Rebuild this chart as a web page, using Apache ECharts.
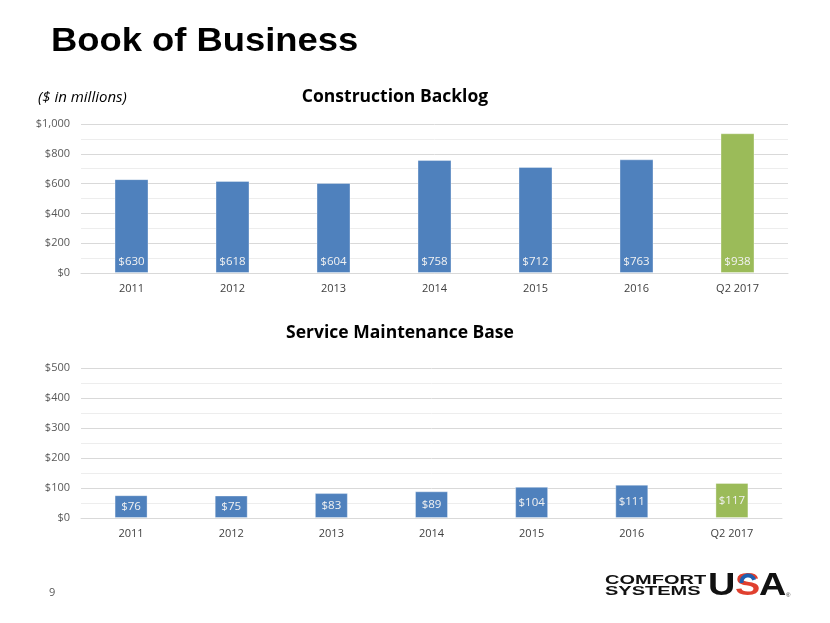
<!DOCTYPE html>
<html>
<head>
<meta charset="utf-8">
<style>
html,body{margin:0;padding:0;background:#fff;}
#chart{width:830px;height:623px;}
</style>
<script src="https://cdn.jsdelivr.net/npm/echarts@6/dist/echarts.min.js"></script>
</head>
<body>
<div id="chart"></div>
<script>
var categories = ['2011', '2012', '2013', '2014', '2015', '2016', 'Q2 2017'];
var backlogValues = [630, 618, 604, 758, 712, 763, 938];
var serviceValues = [76, 75, 83, 89, 104, 111, 117];
var barColors = ['#4F81BD', '#4F81BD', '#4F81BD', '#4F81BD', '#4F81BD', '#4F81BD', '#9BBB59'];

var FONT = '"Open Sans", "Noto Sans", sans-serif';

function toItems(vals) {
  return vals.map(function (v, i) {
    return { value: v, itemStyle: { color: barColors[i] } };
  });
}
function money(v) {
  return '$' + String(v).replace(/\B(?=(\d{3})+(?!\d))/g, ',');
}

var chart = echarts.init(document.getElementById('chart'));
var yAxisCommon = {
  type: 'value',
  axisLine: { show: false },
  axisTick: { show: false },
  axisLabel: { color: '#595959', fontFamily: FONT, fontSize: 11, margin: 11, formatter: money },
  splitLine: { lineStyle: { color: '#D9D9D9', width: 1 } },
  minorTick: { show: false, splitNumber: 2 },
  minorSplitLine: { show: true, lineStyle: { color: '#EDEDED', width: 1 } }
};
var xAxisCommon = {
  type: 'category',
  data: categories,
  axisLine: { lineStyle: { color: '#D9D9D9' } },
  axisTick: { show: false },
  axisLabel: { color: '#404040', fontFamily: FONT, fontSize: 11, margin: 10 }
};

chart.setOption({
  animation: false,
  grid: [
    { left: 81, right: 42, top: 124, height: 149 },
    { left: 81, right: 48, top: 368, height: 150 }
  ],
  xAxis: [
    Object.assign({ gridIndex: 0 }, xAxisCommon),
    Object.assign({ gridIndex: 1 }, xAxisCommon)
  ],
  yAxis: [
    Object.assign({ gridIndex: 0, min: 0, max: 1000, interval: 200 }, yAxisCommon),
    Object.assign({ gridIndex: 1, min: 0, max: 500, interval: 100 }, yAxisCommon)
  ],
  series: [
    {
      type: 'bar', xAxisIndex: 0, yAxisIndex: 0, barWidth: 34,
      data: toItems(backlogValues),
      itemStyle: { borderColor: 'rgba(255,255,255,0.35)', borderWidth: 1 },
      label: { show: true, position: 'insideBottom', distance: 5, color: '#F2F2F2',
               fontFamily: FONT, fontSize: 11.5, formatter: function (p) { return money(p.value); } }
    },
    {
      type: 'bar', xAxisIndex: 1, yAxisIndex: 1, barWidth: 33,
      data: toItems(serviceValues),
      itemStyle: { borderColor: 'rgba(255,255,255,0.35)', borderWidth: 1 },
      label: { show: true, position: 'inside', color: '#F2F2F2',
               fontFamily: FONT, fontSize: 11.5, formatter: function (p) { return money(p.value); } }
    }
  ],
  graphic: [
    { type: 'text', x: 51, y: 41.5, scaleX: 1.07, style: { text: 'Book of Business', fill: '#000',
      font: 'bold 34px "Liberation Sans", Arial, sans-serif', textVerticalAlign: 'middle' } },
    { type: 'text', x: 38, y: 98, style: { text: '($ in millions)', fill: '#000',
      font: 'italic 15px ' + FONT, textVerticalAlign: 'middle' } },
    { type: 'text', x: 395, y: 97, style: { text: 'Construction Backlog', fill: '#000',
      font: 'bold 17.5px ' + FONT, textAlign: 'center', textVerticalAlign: 'middle' } },
    { type: 'text', x: 400, y: 333, style: { text: 'Service Maintenance Base', fill: '#000',
      font: 'bold 17.5px ' + FONT, textAlign: 'center', textVerticalAlign: 'middle' } },
    { type: 'text', x: 49, y: 593, style: { text: '9', fill: '#595959',
      font: '11px ' + FONT, textVerticalAlign: 'middle' } },
    { type: 'text', x: 605, y: 580.5, scaleX: 1.6, style: { text: 'COMFORT', fill: '#111',
      font: 'bold 12.5px "Liberation Sans", Arial, sans-serif', textVerticalAlign: 'middle' } },
    { type: 'text', x: 605, y: 591.5, scaleX: 1.6, style: { text: 'SYSTEMS', fill: '#111',
      font: 'bold 12.5px "Liberation Sans", Arial, sans-serif', textVerticalAlign: 'middle' } },
    { type: 'text', x: 708, y: 586, scaleX: 1.22, style: { text: 'U', fill: '#111',
      font: 'bold 31px "Liberation Sans", Arial, sans-serif', textVerticalAlign: 'middle' } },
    { type: 'text', x: 735, y: 586, scaleX: 1.22, style: { text: 'S', fill: '#E0402F',
      font: 'bold 31px "Liberation Sans", Arial, sans-serif', textVerticalAlign: 'middle' } },
    { type: 'arc', shape: { cx: 748, cy: 582, r: 6.5, startAngle: Math.PI * 0.95, endAngle: Math.PI * 1.9 },
      style: { stroke: '#1F5FB0', lineWidth: 4, fill: null } },
    { type: 'text', x: 759, y: 586, scaleX: 1.22, style: { text: 'A', fill: '#111',
      font: 'bold 31px "Liberation Sans", Arial, sans-serif', textVerticalAlign: 'middle' } },
    { type: 'text', x: 786, y: 595, style: { text: '®', fill: '#333',
      font: '6px "Liberation Sans", Arial, sans-serif', textVerticalAlign: 'middle' } }
  ]
});
</script>
</body>
</html>
